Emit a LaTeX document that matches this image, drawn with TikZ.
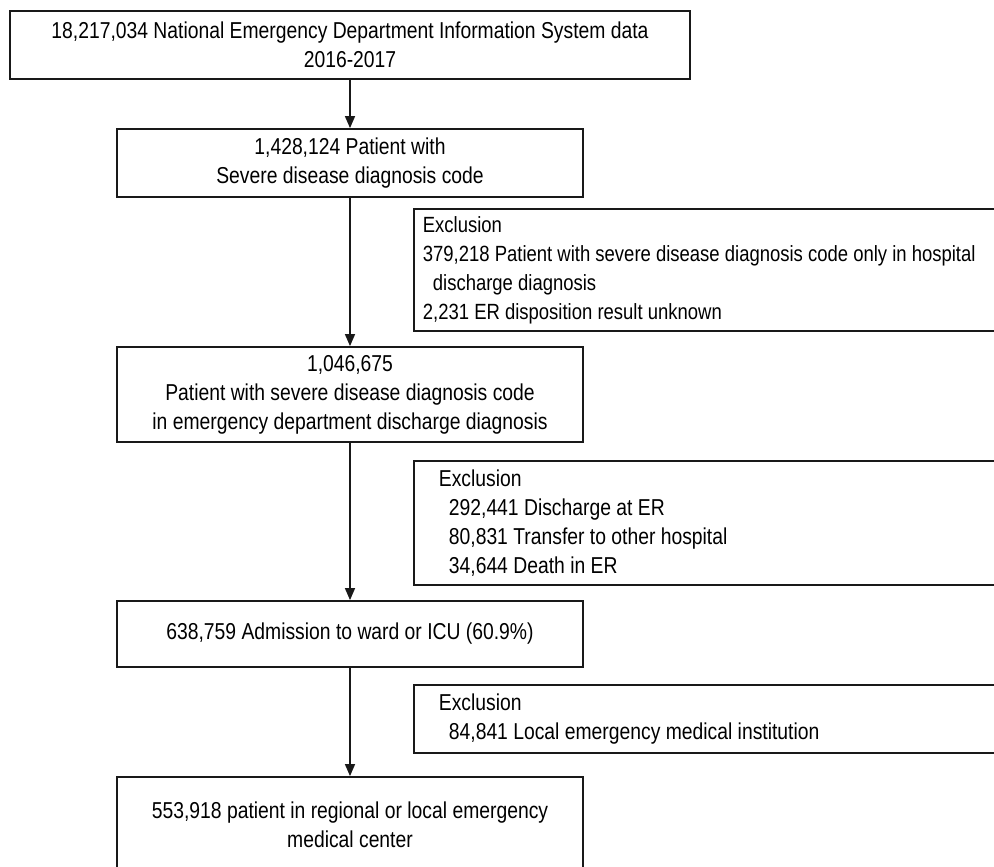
\documentclass[tikz,border=0pt]{standalone}
\usepackage{fontspec}
\setmainfont[FakeStretch=0.84]{Liberation Sans}
\usetikzlibrary{arrows.meta}
\begin{document}
\begin{tikzpicture}[x=0.5pt,y=-0.5pt,
  every node/.style={font=\fontsize{11.5pt}{14.5pt}\selectfont, text=black},
  mainbox/.style={draw=black!90, line width=0.9pt, align=center, inner sep=0pt, minimum width=233pt},
  exbox/.style={draw=black!90, line width=0.9pt, align=flush left, anchor=west, minimum height=#1},
  flow/.style={draw=black!90, line width=0.7pt, -{Triangle[length=6pt,width=5pt]}}
]
\clip (0,0) rectangle (994,866);
\fill[white] (0,0) rectangle (994,866);

\node[mainbox, minimum width=340pt, minimum height=34pt] (b1) at (350,45)
  {18,217,034 National Emergency Department Information System data\\2016-2017};
\node[mainbox, minimum height=34pt] (b2) at (350,163)
  {1,428,124 Patient with\\Severe disease diagnosis code};
\node[mainbox, minimum height=47.5pt] (b3) at (350,394.5)
  {1,046,675\\Patient with severe disease diagnosis code\\in emergency department discharge diagnosis};
\node[mainbox, minimum height=33pt] (b4) at (350,634)
  {638,759 Admission to ward or ICU (60.9\%)};
\node[mainbox, minimum height=48pt] (b5) at (350,825)
  {553,918 patient in regional or local emergency\\medical center};

\node[exbox=61pt, inner xsep=4.5pt, text width=290pt, font=\fontsize{11pt}{14.5pt}\selectfont] (e1) at (413,270)
  {Exclusion\\379,218 Patient with severe disease diagnosis code only in hospital\\\hspace*{5pt}discharge diagnosis\\2,231 ER disposition result unknown};
\node[exbox=62pt, inner xsep=12.5pt, text width=280pt] (e2) at (413,523)
  {Exclusion\\\hspace*{5pt}292,441 Discharge at ER\\\hspace*{5pt}80,831 Transfer to other hospital\\\hspace*{5pt}34,644 Death in ER};
\node[exbox=34pt, inner xsep=12.5pt, text width=280pt] (e3) at (413,719)
  {Exclusion\\\hspace*{5pt}84,841 Local emergency medical institution};

\draw[flow] (b1) -- (b2);
\draw[flow] (b2) -- (b3);
\draw[flow] (b3) -- (b4);
\draw[flow] (b4) -- (b5);
\end{tikzpicture}
\end{document}
